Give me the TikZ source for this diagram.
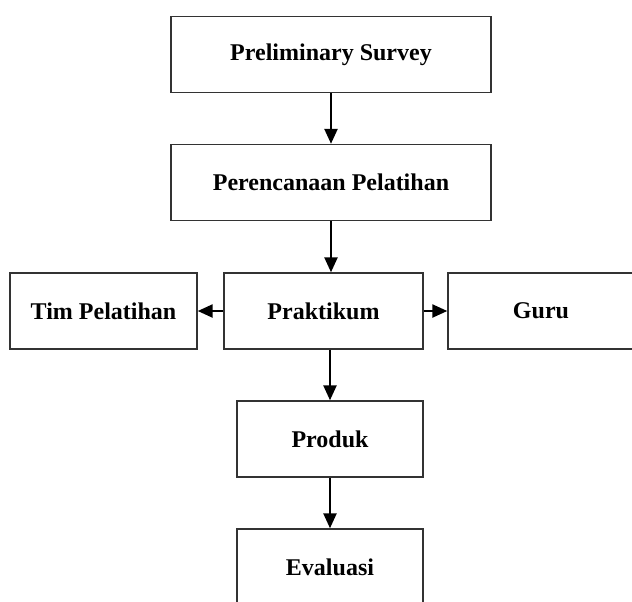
\documentclass[tikz,border=0pt]{standalone}
\usepackage{fontspec}
\setmainfont{Liberation Serif}
\usetikzlibrary{positioning, arrows.meta}
\tikzset{
  stagebox/.style={draw=black!80, line width=0.7pt, fill=white, inner sep=0pt,
    minimum height=38pt, font=\bfseries\fontsize{12}{14}\selectfont},
  flowarrow/.style={line width=1.2pt, -{Triangle[length=7.5pt,width=6.5pt]}}
}
\begin{document}
\begin{tikzpicture}[x=0.5pt, y=-0.5pt]
  \useasboundingbox (0,0) rectangle (632,601);
  % main column
  \node[stagebox, minimum width=160pt] (survey) at (331,54.5) {Preliminary Survey};
  \node[stagebox, minimum width=160pt] (plan) at (331,182.5) {Perencanaan Pelatihan};
  \node[stagebox, minimum width=99.5pt] (prak) at (323.5,311) {Praktikum};
  \node[stagebox, minimum width=93.5pt] (tim) at (103.5,311) {Tim Pelatihan};
  \node[stagebox, minimum width=93pt] (guru) at (541,311) {Guru};
  \node[stagebox, minimum width=93pt] (produk) at (330,439) {Produk};
  \node[stagebox, minimum width=93pt] (eval) at (330,567) {Evaluasi};
  % connectors
  \draw[flowarrow] (survey.south) -- (plan.north);
  \draw[flowarrow] (plan.south) -- (plan.south |- prak.north);
  \draw[flowarrow] (prak.west) -- (tim.east);
  \draw[flowarrow] (prak.east) -- (guru.west);
  \draw[flowarrow] (produk.north |- prak.south) -- (produk.north);
  \draw[flowarrow] (produk.south) -- (eval.north);
\end{tikzpicture}
\end{document}
